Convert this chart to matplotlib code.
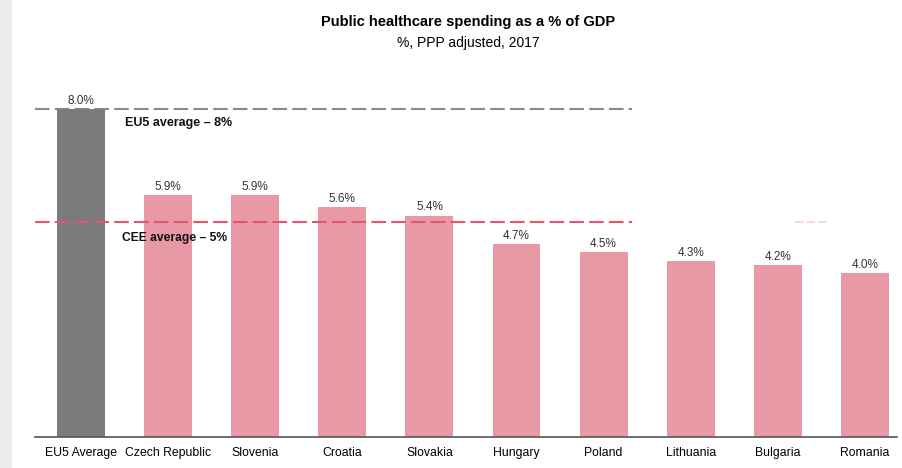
import matplotlib
matplotlib.use("Agg")
import matplotlib.pyplot as plt
from matplotlib.patches import Rectangle

countries = ["EU5 Average", "Czech Republic", "Slovenia", "Croatia", "Slovakia",
             "Hungary", "Poland", "Lithuania", "Bulgaria", "Romania"]
spending = [8.0, 5.9, 5.9, 5.6, 5.4, 4.7, 4.5, 4.3, 4.2, 4.0]
value_labels = ["8.0%", "5.9%", "5.9%", "5.6%", "5.4%", "4.7%", "4.5%", "4.3%", "4.2%", "4.0%"]
eu5_avg = 8.0
cee_avg_line = 5.25  # drawn slightly above 5 in the source

GRAY = "#7b7b7b"
PINK = "#e899a5"
PINK_LINE = "#e0566f"
GRAY_LINE = "#8a8a8a"

plt.rcParams["font.family"] = ["Liberation Sans", "DejaVu Sans"]

fig = plt.figure(figsize=(9.02, 4.68), dpi=100)
fig.patches.append(Rectangle((0, 0), 11 / 902, 1, transform=fig.transFigure,
                             color="#ececec", zorder=0))

ax = fig.add_axes([35 / 902, 31 / 468, 862 / 902, 342 / 468])
x = list(range(len(countries)))
colors = [GRAY] + [PINK] * (len(countries) - 1)
ax.bar(x, spending, width=0.55, color=colors, zorder=2)

for xi, v, lab in zip(x, spending, value_labels):
    ax.annotate(lab, (xi, v), xytext=(0, 1.5), textcoords="offset points",
                ha="center", va="bottom", fontsize=8.5, color="#333333")

line_end = 6.33
ax.plot([-0.53, line_end], [eu5_avg, eu5_avg], color=GRAY_LINE, lw=1.5,
        dashes=(7, 2.5), zorder=1)
ax.plot([-0.53, line_end], [cee_avg_line, cee_avg_line], color=PINK_LINE, lw=1.5,
        dashes=(7, 2.5), zorder=3)
# faint leftover fragment on the right
ax.plot([8.2, 8.6], [cee_avg_line, cee_avg_line], color="#f6d3da", lw=1.2,
        dashes=(5, 2), zorder=1)

ax.text(0.5, eu5_avg - 0.34, "EU5 average \u2013 8%", fontsize=9, fontweight="bold",
        ha="left", va="center", color="#111111")
ax.text(0.47, cee_avg_line - 0.4, "CEE average \u2013 5%", fontsize=8.7, fontweight="bold",
        ha="left", va="center", color="#111111", zorder=4)

ax.set_xlim(-0.53, 9.37)
ax.set_ylim(0, 8.34)
ax.set_xticks(x)
ax.set_xticklabels(countries, fontsize=8.8)
ax.tick_params(axis="x", length=0, pad=7)
ax.set_yticks([])
for s in ["top", "right", "left"]:
    ax.spines[s].set_visible(False)
ax.spines["bottom"].set_color("#555555")
ax.spines["bottom"].set_linewidth(1.2)

fig.text(468 / 902, 1 - 22 / 468, "Public healthcare spending as a % of GDP",
         ha="center", va="center", fontsize=10.5, fontweight="bold")
fig.text(468 / 902, 1 - 43 / 468, "%, PPP adjusted, 2017",
         ha="center", va="center", fontsize=10)

fig.savefig("out.png", dpi=100)
